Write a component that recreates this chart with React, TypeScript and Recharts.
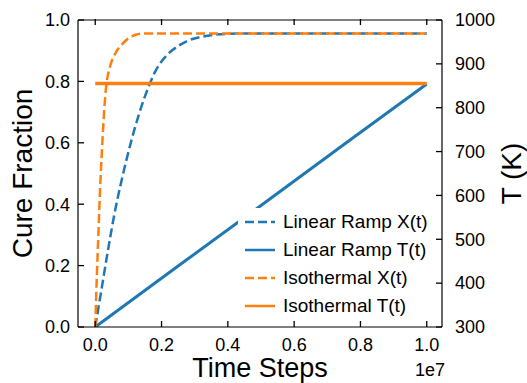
import { ComposedChart, Line, XAxis, YAxis, Label } from 'recharts'

const BLUE = '#1f77b4'
const ORANGE = '#ff7f0e'
const FONT = '"Liberation Sans", Arial, sans-serif'

// plot frame edges (layout), used for the inward tick marks
const PL = 78
const PR = 442
const PT = 19
const PB = 327
const TICK = 6

// time steps are raw counts, axis shows them in units of 1e7
const xTicks = [0, 2e6, 4e6, 6e6, 8e6, 1e7]
const cureTicks = [0, 0.2, 0.4, 0.6, 0.8, 1.0]
const tempTicks = [300, 400, 500, 600, 700, 800, 900, 1000]

const rampCureTime = [0, 2e5, 4e5, 6e5, 8e5, 1e6, 1.2e6, 1.4e6, 1.6e6, 1.8e6, 2e6, 2.2e6, 2.5e6, 2.8e6, 3.2e6, 3.6e6, 4e6, 4.5e6, 5e6, 1e7]
const rampCure = [0, 0.13, 0.26, 0.38, 0.48, 0.57, 0.65, 0.72, 0.78, 0.83, 0.865, 0.89, 0.915, 0.933, 0.945, 0.952, 0.955, 0.956, 0.956, 0.956]

const isoCureTime = [0, 5e4, 1e5, 1.5e5, 2e5, 2.5e5, 3e5, 3.5e5, 4.5e5, 6e5, 8e5, 1e6, 1.2e6, 1.4e6, 1e7]
const isoCure = [0, 0.17, 0.32, 0.46, 0.57, 0.67, 0.75, 0.8, 0.85, 0.89, 0.92, 0.94, 0.951, 0.956, 0.956]

const rampTempTime = [0, 2.5e6, 5e6, 7.5e6, 1e7]
const rampTemp = [300, 439, 577, 716, 854]

const isoTempTime = [0, 2.5e6, 5e6, 7.5e6, 1e7]
const isoTemp = [855, 855, 855, 855, 855]

const zip = (xs: number[], ys: number[], key: string) =>
  xs.map((t, i) => ({ t, [key]: ys[i] }))

const rampCureData = zip(rampCureTime, rampCure, 'v')
const isoCureData = zip(isoCureTime, isoCure, 'v')
const rampTempData = zip(rampTempTime, rampTemp, 'v')
const isoTempData = zip(isoTempTime, isoTemp, 'v')

const legendItems = [
  { name: 'Linear Ramp X(t)', color: BLUE, dash: '9 4' },
  { name: 'Linear Ramp T(t)', color: BLUE, dash: undefined },
  { name: 'Isothermal X(t)', color: ORANGE, dash: '9 4' },
  { name: 'Isothermal T(t)', color: ORANGE, dash: undefined },
]

const txt = { fill: '#000', fontSize: 18, fontFamily: FONT }
const mark = { stroke: '#000', strokeWidth: 1.3, fill: 'none' }

const BottomTick = (p: any) => (
  <g>
    <text x={p.x} y={p.y} dy="0.71em" textAnchor="middle" {...txt}>
      {(Number(p.payload.value) / 1e7).toFixed(1)}
    </text>
    <path d={`M${p.x},${PB}V${PB - TICK}`} {...mark} />
  </g>
)

const TopTick = (p: any) => (
  <path d={`M${p.x},${PT}V${PT + TICK}`} {...mark} />
)

const LeftTick = (p: any) => (
  <g>
    <text x={p.x} y={p.y} dy="0.35em" textAnchor="end" {...txt}>
      {Number(p.payload.value).toFixed(1)}
    </text>
    <path d={`M${PL},${p.y}H${PL + TICK}`} {...mark} />
  </g>
)

const RightTick = (p: any) => (
  <g>
    <text x={p.x} y={p.y} dy="0.35em" textAnchor="start" {...txt}>
      {p.payload.value}
    </text>
    <path d={`M${PR},${p.y}H${PR - TICK}`} {...mark} />
  </g>
)

export default function App() {
  return (
    <div style={{ position: 'absolute', left: 0, top: 0, width: 527, height: 383, background: '#fff' }}>
      <ComposedChart width={527} height={383} margin={{ top: PT, right: 0, bottom: 0, left: 0 }}>
        <XAxis
          xAxisId="bottom"
          dataKey="t"
          type="number"
          domain={[-0.052e7, 1.046e7]}
          allowDataOverflow
          ticks={xTicks}
          tickLine={false}
          tickSize={0}
          tickMargin={11}
          height={383 - PB}
          tick={BottomTick}
          stroke="#000"
          strokeWidth={1.2}
        >
          <Label
            content={(p: any) => {
              const vb = p.viewBox
              return (
                <g fontFamily={FONT}>
                  <text x={vb.x + vb.width / 2} y={377} textAnchor="middle" fontSize={27} fill="#000">Time Steps</text>
                  <text x={vb.x + vb.width + 3} y={376} textAnchor="end" fontSize={18} fill="#000">1e7</text>
                </g>
              )
            }}
          />
        </XAxis>
        <XAxis
          xAxisId="top"
          orientation="top"
          dataKey="t"
          type="number"
          domain={[-0.052e7, 1.046e7]}
          allowDataOverflow
          ticks={xTicks}
          tick={TopTick}
          tickLine={false}
          tickSize={0}
          height={1}
          stroke="#000"
          strokeWidth={1.2}
        />
        <YAxis
          yAxisId="left"
          type="number"
          domain={[0, 1]}
          allowDataOverflow
          ticks={cureTicks}
          tickLine={false}
          tickSize={0}
          tickMargin={8}
          width={PL}
          tick={LeftTick}
          stroke="#000"
          strokeWidth={1.2}
        >
          <Label
            content={(p: any) => {
              const vb = p.viewBox
              const cy = vb.y + vb.height / 2
              return (
                <text x={22} y={cy} transform={`rotate(-90 22 ${cy})`} textAnchor="middle" dominantBaseline="central" fontSize={28} fontFamily={FONT} fill="#000">Cure Fraction</text>
              )
            }}
          />
        </YAxis>
        <YAxis
          yAxisId="right"
          orientation="right"
          type="number"
          domain={[300, 1000]}
          allowDataOverflow
          ticks={tempTicks}
          tickLine={false}
          tickSize={0}
          tickMargin={13}
          width={527 - PR}
          tick={RightTick}
          stroke="#000"
          strokeWidth={1.2}
        >
          <Label
            content={(p: any) => {
              const vb = p.viewBox
              const cy = vb.y + vb.height / 2
              return (
                <text x={511} y={cy} transform={`rotate(-90 511 ${cy})`} textAnchor="middle" dominantBaseline="central" fontSize={28} fontFamily={FONT} fill="#000">T (K)</text>
              )
            }}
          />
        </YAxis>
        <Line xAxisId="bottom" yAxisId="right" data={rampTempData} dataKey="v" type="linear" stroke={BLUE} strokeWidth={3} dot={false} activeDot={false} isAnimationActive={false} />
        <Line xAxisId="bottom" yAxisId="left" data={rampCureData} dataKey="v" type="monotone" stroke={BLUE} strokeWidth={2.5} strokeDasharray="9 4" dot={false} activeDot={false} isAnimationActive={false} />
        <Line xAxisId="bottom" yAxisId="left" data={isoCureData} dataKey="v" type="monotone" stroke={ORANGE} strokeWidth={2.5} strokeDasharray="9 4" dot={false} activeDot={false} isAnimationActive={false} />
        <Line xAxisId="top" yAxisId="right" data={isoTempData} dataKey="v" type="linear" stroke={ORANGE} strokeWidth={3.5} dot={false} activeDot={false} isAnimationActive={false} />
      </ComposedChart>
      <div style={{ position: 'absolute', left: 238, top: 208, background: '#fff', padding: '0 6px 0 7px', fontFamily: FONT, fontSize: 19, color: '#000' }}>
        {legendItems.map((item) => (
          <div key={item.name} style={{ display: 'flex', alignItems: 'center', height: 28 }}>
            <svg width={30} height={10} style={{ marginRight: 8 }}>
              <line x1={0} y1={5} x2={30} y2={5} stroke={item.color} strokeWidth={2.5} strokeDasharray={item.dash} />
            </svg>
            <span style={{ whiteSpace: 'nowrap' }}>{item.name}</span>
          </div>
        ))}
      </div>
    </div>
  )
}
